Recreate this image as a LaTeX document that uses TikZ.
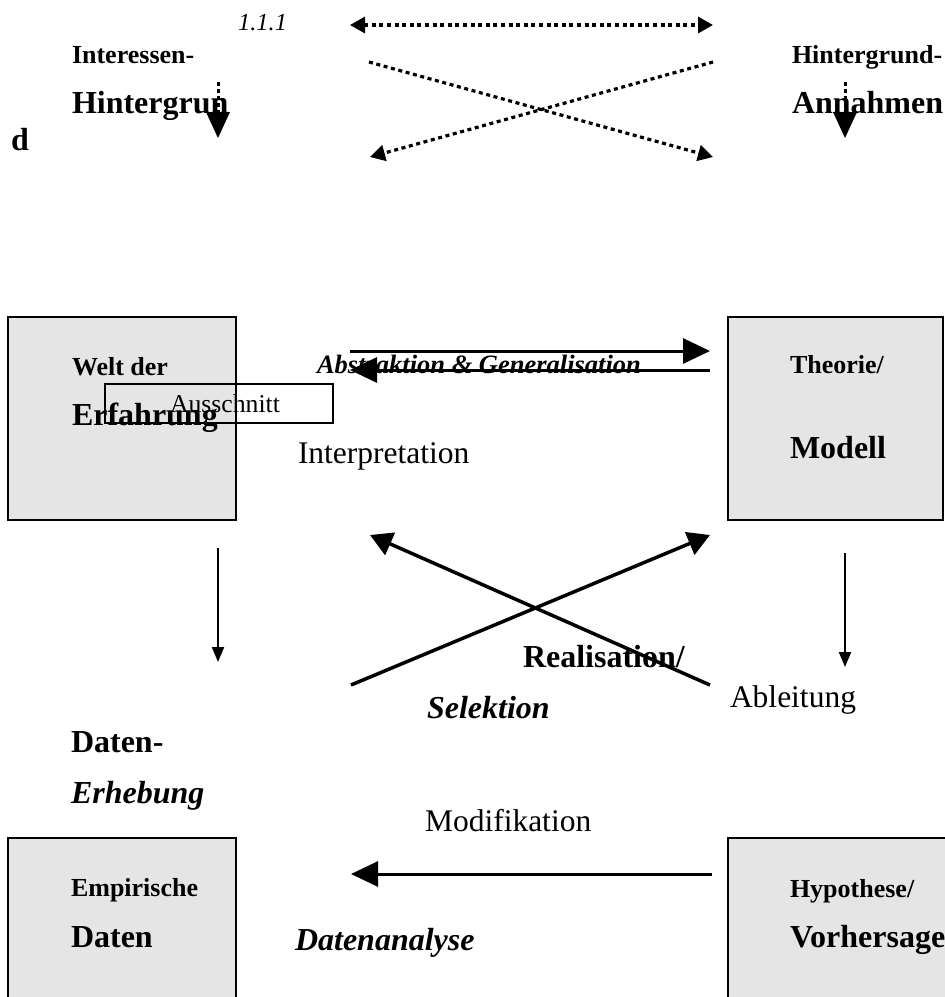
\documentclass[tikz,border=0pt]{standalone}
\usepackage{fontspec}
\setmainfont{Liberation Serif}
\usetikzlibrary{arrows.meta}
\definecolor{boxgray}{RGB}{229,229,229}
\begin{document}
\begin{tikzpicture}[x=1pt,y=-1pt,
  lbl/.style={anchor=base west, inner sep=0pt, outer sep=0pt},
  sb/.style={lbl, font=\fontsize{26}{30}\selectfont\bfseries},
  bb/.style={lbl, font=\fontsize{32}{36}\selectfont\bfseries},
  nt/.style={lbl, font=\fontsize{31.5}{36}\selectfont},
  bi/.style={lbl, font=\fontsize{32}{36}\selectfont\bfseries\itshape},
  panel/.style={draw, line width=2.5pt, fill=boxgray, anchor=north west, inner sep=0pt, outer sep=0pt},
  dotline/.style={line width=3.2pt, dash pattern=on 4pt off 3.6pt},
  dottip/.style={-{Triangle[length=15pt,width=16pt]}},
  dotdown/.style={line width=3pt, dash pattern=on 4pt off 3pt},
  bigtip/.style={-{Triangle[length=27pt,width=25pt]}},
  thickarrow/.style={line width=3pt},
  xarrow/.style={line width=3.5pt, -{Triangle[length=22pt,width=24pt]}},
  thinarrow/.style={line width=2pt, -{Triangle[length=15pt,width=12pt]}}
]
\useasboundingbox (0,0) rectangle (945,997);
\clip (0,0) rectangle (945,997);

% ---------- top part ----------
\node[lbl, font=\fontsize{24.5}{28}\selectfont\itshape] (num) at (238,30) {1.1.1};
\node[sb] (int1) at (72,63) {Interessen-};
\node[bb] (int2) at (72,113) {Hintergrun};
\node[bb] (int3) at (11,150) {d};
\node[sb] (hin1) at (792,63) {Hintergrund-};
\node[bb] (hin2) at (792,113) {Annahmen};

\coordinate (dl1) at (218,82);
\coordinate (dl2) at (218,112);
\coordinate (dl3) at (218,138);
\draw[dotdown] (dl1) -- (dl2);
\draw[line width=0pt, -{Triangle[length=26pt,width=24pt]}] (dl2) -- (dl3);
\coordinate (dr1) at (845,82);
\coordinate (dr2) at (845,112);
\coordinate (dr3) at (845,138);
\draw[dotdown] (dr1) -- (dr2);
\draw[line width=0pt, -{Triangle[length=26pt,width=24pt]}] (dr2) -- (dr3);

\coordinate (tl) at (350,25);
\coordinate (tr) at (713,25);
\draw[dotline, {Triangle[length=15pt,width=16pt]}-{Triangle[length=15pt,width=16pt]}] (tl) -- (tr);
\coordinate (xa1) at (369,62);
\coordinate (xa2) at (713,157);
\coordinate (xb1) at (713,62);
\coordinate (xb2) at (370,157);
\draw[dotline, dottip] (xa1) -- (xa2);
\draw[dotline, dottip] (xb1) -- (xb2);

% ---------- middle part ----------
\node[panel, minimum width=228pt, minimum height=203pt] (welt) at (8,317) {};
\node[panel, minimum width=215pt, minimum height=203pt] (theo) at (728,317) {};
\node[sb] (welt1) at (72,375) {Welt der};
\node[bb] (welt2) at (72,425) {Erfahrung};
\node[lbl, font=\fontsize{25.7}{30}\selectfont] (aus) at (170,412) {Ausschnitt};
\node[draw, line width=1.5pt, anchor=north west, inner sep=0pt, minimum width=228pt, minimum height=39pt] (ausbox) at (104,383) {};
\node[sb] (theo1) at (790,373) {Theorie/};
\node[bb] (theo2) at (790,458) {Modell};

\node[lbl, font=\fontsize{26.5}{30}\selectfont\bfseries\itshape] (abs) at (317,373) {Abstraktion \& Generalisation};
\node[nt] (interp) at (298,463) {Interpretation};

\coordinate (a1s) at (350,351);
\coordinate (a1e) at (710,351);
\coordinate (a2s) at (710,370);
\coordinate (a2e) at (350,370);
\draw[thickarrow, bigtip] (a1s) -- (a1e);
\draw[thickarrow, bigtip] (a2s) -- (a2e);

\coordinate (vl1) at (218,548);
\coordinate (vl2) at (218,662);
\coordinate (vr1) at (845,553);
\coordinate (vr2) at (845,667);
\draw[thinarrow] (vl1) -- (vl2);
\draw[thinarrow] (vr1) -- (vr2);

\node[bb] (real) at (523,667) {Realisation/};
\node[bi] (sel) at (427,718) {Selektion};
\node[nt] (abl) at (730,707) {Ableitung};

\coordinate (x1s) at (351,685);
\coordinate (x1e) at (710,535);
\coordinate (x2s) at (710,685);
\coordinate (x2e) at (370,535);
\draw[xarrow] (x1s) -- (x1e);
\draw[xarrow] (x2s) -- (x2e);

% ---------- bottom part ----------
\node[bb] (dat1) at (71,752) {Daten-};
\node[bi] (dat2) at (71,803) {Erhebung};
\node[nt] (modi) at (425,831) {Modifikation};

\node[panel, minimum width=228pt, minimum height=180pt] (emp) at (8,838) {};
\node[panel, minimum width=240pt, minimum height=180pt] (hyp) at (728,838) {};
\node[sb] (emp1) at (71,896) {Empirische};
\node[bb] (emp2) at (71,947) {Daten};
\node[sb] (hyp1) at (790,897) {Hypothese/};
\node[bb] (hyp2) at (790,947) {Vorhersage};
\node[bi] (dana) at (295,950) {Datenanalyse};

\coordinate (b1s) at (712,874);
\coordinate (b1e) at (351,874);
\draw[thickarrow, bigtip] (b1s) -- (b1e);
\end{tikzpicture}
\end{document}
